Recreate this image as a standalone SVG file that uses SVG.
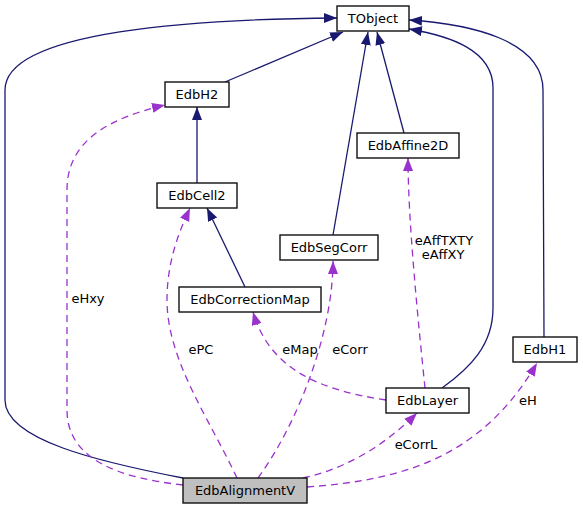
<svg xmlns="http://www.w3.org/2000/svg" width="583" height="509" viewBox="0 0 583 509">
<style>
.n rect{fill:#fff;stroke:#111;stroke-width:1.4}
.n text,.l{font-family:"DejaVu Sans",sans-serif;font-size:13px;fill:#000}
.n text{text-anchor:middle}
.l{text-anchor:middle}
.i{fill:none;stroke:#191970;stroke-width:1.3}
.u{fill:none;stroke:#9a32cd;stroke-width:1.3;stroke-dasharray:7,5}
</style>
<defs>
<marker id="ai" markerUnits="userSpaceOnUse" markerWidth="14" markerHeight="11" refX="13" refY="5" orient="auto"><path d="M0,0L13,5L0,10z" fill="#191970"/></marker>
<marker id="au" markerUnits="userSpaceOnUse" markerWidth="14" markerHeight="11" refX="13" refY="5" orient="auto"><path d="M0,0L13,5L0,10z" fill="#9a32cd"/></marker>
</defs>
<g id="edges">
<path class="i" d="M183,478 C100,462 5,440 5,400 L5,90 C5,30 200,19 337,18" marker-end="url(#ai)"/>
<path class="i" d="M225,82 L343,32" marker-end="url(#ai)"/>
<path class="i" d="M197,183 L197,107" marker-end="url(#ai)"/>
<path class="i" d="M245,287 L207,208" marker-end="url(#ai)"/>
<path class="i" d="M333,235 L368,32" marker-end="url(#ai)"/>
<path class="i" d="M404,133 L377,32" marker-end="url(#ai)"/>
<path class="i" d="M442,388 C470,368 493,345 493,308 L493,88 C493,50 450,36 409,29" marker-end="url(#ai)"/>
<path class="i" d="M544,337 L543,90 C543,40 470,24 409,20" marker-end="url(#ai)"/>
<path class="u" d="M183,485 C120,478 67,460 67,410 L67,190 C67,140 110,118 165,105" marker-end="url(#au)"/>
<path class="u" d="M237,478 C210,420 167,360 167,300 C167,260 180,230 190,208" marker-end="url(#au)"/>
<path class="u" d="M258,478 C300,420 333,330 333,261" marker-end="url(#au)"/>
<path class="u" d="M386,400 C320,390 270,370 253,312" marker-end="url(#au)"/>
<path class="u" d="M425,388 C418,320 408,220 408,158" marker-end="url(#au)"/>
<path class="u" d="M303,478 C340,470 380,450 417,413" marker-end="url(#au)"/>
<path class="u" d="M307,487 C400,480 480,460 537,363" marker-end="url(#au)"/>
</g>
<g id="labels">
<text class="l" x="88" y="303">eHxy</text>
<text class="l" x="201" y="354">ePC</text>
<text class="l" x="300" y="354">eMap</text>
<text class="l" x="350" y="354">eCorr</text>
<text class="l" x="444" y="245">eAffTXTY</text>
<text class="l" x="443" y="259">eAffXY</text>
<text class="l" x="416" y="449">eCorrL</text>
<text class="l" x="528" y="405">eH</text>
</g>
<g id="TObject" class="n"><rect x="337" y="6" width="72" height="25"/><text x="373" y="23">TObject</text></g>
<g id="EdbH2" class="n"><rect x="165" y="82" width="64" height="25"/><text x="197" y="99">EdbH2</text></g>
<g id="EdbCell2" class="n"><rect x="157" y="183" width="80" height="25"/><text x="197" y="200">EdbCell2</text></g>
<g id="EdbAffine2D" class="n"><rect x="357" y="133" width="102" height="25"/><text x="408" y="150">EdbAffine2D</text></g>
<g id="EdbSegCorr" class="n"><rect x="280" y="235" width="98" height="25"/><text x="329" y="252">EdbSegCorr</text></g>
<g id="EdbCorrectionMap" class="n"><rect x="179" y="287" width="142" height="25"/><text x="250" y="304">EdbCorrectionMap</text></g>
<g id="EdbH1" class="n"><rect x="513" y="337" width="64" height="25"/><text x="545" y="354">EdbH1</text></g>
<g id="EdbLayer" class="n"><rect x="386" y="388" width="83" height="25"/><text x="427.5" y="405">EdbLayer</text></g>
<g id="EdbAlignmentV" class="n"><rect x="183" y="478" width="124" height="25" style="fill:#bfbfbf"/><text x="245" y="495">EdbAlignmentV</text></g>
</svg>
